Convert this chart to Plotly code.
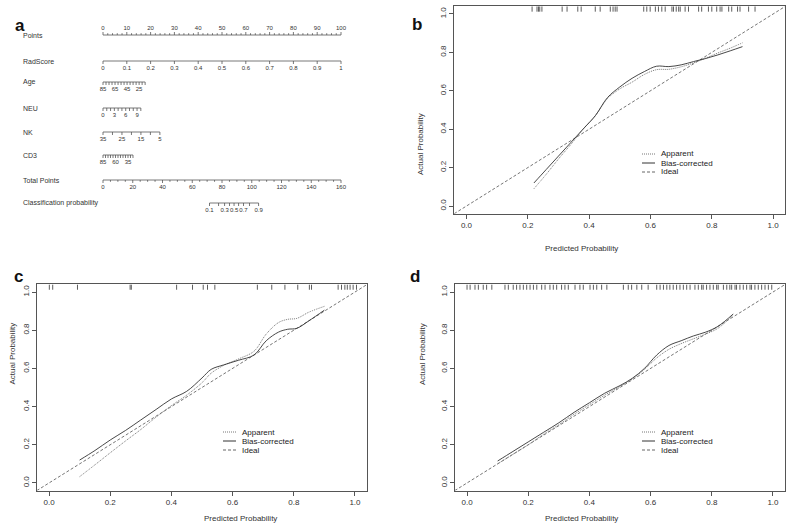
import numpy as np
import plotly.graph_objects as go

W, H = 786, 530

# ---------------- Panel a: nomogram data ----------------
POINTS_LABELS = [0, 10, 20, 30, 40, 50, 60, 70, 80, 90, 100]
POINTS_TICKS = list(range(0, 101, 2))

RADSCORE_LABELS = [0, 0.1, 0.2, 0.3, 0.4, 0.5, 0.6, 0.7, 0.8, 0.9, 1]
RADSCORE_TICKS = RADSCORE_LABELS
RADSCORE_ENDS, RADSCORE_PTS = [0, 1], [0, 100]

AGE_LABELS = [85, 65, 45, 25]
AGE_TICKS = list(range(85, 14, -5))
AGE_ENDS, AGE_PTS = [85, 15], [0, 17.7]

NEU_LABELS = [0, 3, 6, 9]
NEU_TICKS = list(range(0, 11))
NEU_ENDS, NEU_PTS = [0, 10], [0, 15.9]

NK_LABELS = [35, 25, 15, 5]
NK_TICKS = [35, 30, 25, 20, 15, 10, 5]
NK_ENDS, NK_PTS = [35, 5], [0, 23.9]

CD3_LABELS = [85, 60, 35]
CD3_TICKS = list(range(85, 24, -5))
CD3_ENDS, CD3_PTS = [85, 25], [0, 12.6]

TOTAL_LABELS = [0, 20, 40, 60, 80, 100, 120, 140, 160]
TOTAL_TICKS = list(range(0, 161, 5))
TOTAL_MAX = 160

PROB_LABELS = [0.1, 0.3, 0.5, 0.7, 0.9]
PROB_TICKS = [0.1, 0.2, 0.3, 0.4, 0.5, 0.6, 0.7, 0.8, 0.9]
PROB_CENTER_TOTAL, PROB_SLOPE = 88.1, 0.1332

ROW_NAMES = ["Points", "RadScore", "Age", "NEU", "NK", "CD3", "Total Points",
             "Classification probability"]
ROW_Y = [35, 61, 82, 108, 132, 155, 180, 203]   # layout rows (px from top)

# ---------------- Calibration curves ----------------
B_X = [0.22, 0.26, 0.30, 0.34, 0.38, 0.42, 0.46, 0.50, 0.54, 0.58, 0.62, 0.66, 0.70, 0.74, 0.78, 0.82, 0.86, 0.90]
B_BIAS = [0.12, 0.19, 0.26, 0.33, 0.40, 0.47, 0.565, 0.62, 0.665, 0.70, 0.728, 0.726, 0.735, 0.752, 0.768, 0.787, 0.808, 0.83]
B_APP = [0.09, 0.165, 0.245, 0.32, 0.40, 0.47, 0.56, 0.61, 0.645, 0.685, 0.71, 0.712, 0.725, 0.745, 0.77, 0.797, 0.822, 0.85]
B_RUG = [0.214, 0.230, 0.235, 0.239, 0.246, 0.312, 0.328, 0.363, 0.374, 0.420, 0.436, 0.469, 0.478,
         0.485, 0.491, 0.578, 0.588, 0.599, 0.616, 0.626, 0.637, 0.648, 0.670, 0.675, 0.684, 0.692,
         0.697, 0.713, 0.724, 0.757, 0.767, 0.789, 0.800, 0.816, 0.827, 0.833, 0.855, 0.865, 0.884,
         0.892, 0.920, 0.941]

C_X = [0.10, 0.15, 0.20, 0.25, 0.30, 0.35, 0.40, 0.45, 0.50, 0.53, 0.57, 0.62, 0.67, 0.71, 0.75, 0.78, 0.81, 0.85, 0.90]
C_BIAS = [0.12, 0.17, 0.225, 0.275, 0.33, 0.385, 0.44, 0.48, 0.55, 0.595, 0.618, 0.643, 0.67, 0.745, 0.79, 0.805, 0.81, 0.85, 0.905]
C_APP = [0.033, 0.095, 0.158, 0.22, 0.28, 0.345, 0.405, 0.46, 0.525, 0.575, 0.615, 0.65, 0.69, 0.78, 0.84, 0.857, 0.862, 0.895, 0.925]
C_RUG = [0.001, 0.012, 0.093, 0.265, 0.269, 0.417, 0.469, 0.504, 0.518, 0.542, 0.681, 0.728, 0.771,
         0.813, 0.851, 0.858, 0.945, 0.956, 0.967, 0.975, 0.984, 0.994, 1.005]

D_X = [0.10, 0.15, 0.20, 0.25, 0.30, 0.35, 0.40, 0.45, 0.50, 0.54, 0.58, 0.62, 0.66, 0.70, 0.74, 0.78, 0.82, 0.87]
D_BIAS = [0.115, 0.165, 0.215, 0.265, 0.315, 0.37, 0.42, 0.47, 0.51, 0.548, 0.60, 0.67, 0.72, 0.745, 0.77, 0.79, 0.82, 0.885]
D_APP = [0.10, 0.15, 0.20, 0.255, 0.305, 0.36, 0.41, 0.46, 0.505, 0.545, 0.595, 0.655, 0.70, 0.73, 0.755, 0.78, 0.81, 0.88]
D_RUG = [0.000, 0.010, 0.026, 0.037, 0.053, 0.064, 0.081, 0.124, 0.135, 0.151, 0.162, 0.173, 0.184,
         0.195, 0.206, 0.217, 0.228, 0.244, 0.255, 0.271, 0.282, 0.293, 0.309, 0.320, 0.331, 0.353,
         0.369, 0.380, 0.402, 0.413, 0.424, 0.440, 0.457, 0.511, 0.527, 0.538, 0.555, 0.571, 0.592,
         0.620, 0.631, 0.642, 0.653, 0.663, 0.674, 0.685, 0.696, 0.707, 0.718, 0.729, 0.745, 0.756,
         0.767, 0.772, 0.783, 0.794, 0.805, 0.816, 0.821, 0.838, 0.849, 0.859, 0.865, 0.876, 0.881,
         0.892, 0.903, 0.914, 0.925, 0.930, 0.941, 0.952, 0.963, 0.974, 0.985, 0.996]

IDEAL = [-0.04, 1.04]
LEGEND_NAMES = ["Apparent", "Bias-corrected", "Ideal"]

FONT = "Liberation Sans, Arial, sans-serif"
TXT = "#333333"
AX = "#555555"

fig = go.Figure()

# ---------------- nomogram (xaxis / yaxis) ----------------
def lin(v, ends, pts):
    v = np.asarray(v, dtype=float)
    return pts[0] + (v - ends[0]) / (ends[1] - ends[0]) * (pts[1] - pts[0])

def total_to_x(t):
    return np.asarray(t, dtype=float) / TOTAL_MAX * 100.0

def prob_to_x(p):
    p = np.asarray(p, dtype=float)
    return total_to_x(PROB_CENTER_TOTAL + np.log(p / (1 - p)) / PROB_SLOPE)

def nomo_axis(tick_x, label_x, labels, y, up=False, ticklen=3.0, major_x=None):
    tick_x = np.asarray(tick_x, dtype=float)
    d = -1 if up else 1
    xs = [tick_x.min(), tick_x.max(), None]
    ys = [y, y, None]
    majors = set(np.round(np.asarray(major_x if major_x is not None else tick_x), 6))
    for tx in tick_x:
        L = ticklen if np.round(tx, 6) in majors else ticklen * 0.6
        xs += [tx, tx, None]
        ys += [y, y + d * L, None]
    fig.add_trace(go.Scatter(x=xs, y=ys, mode="lines", xaxis="x", yaxis="y",
                             line=dict(color=AX, width=0.8), hoverinfo="skip", showlegend=False))
    ly = y - 7 if up else y + 7
    fig.add_trace(go.Scatter(x=list(label_x), y=[ly] * len(label_x), mode="text",
                             text=[str(l) for l in labels], xaxis="x", yaxis="y",
                             textfont=dict(family=FONT, size=6, color=TXT),
                             hoverinfo="skip", showlegend=False))

nomo_axis(POINTS_TICKS, POINTS_LABELS, POINTS_LABELS, ROW_Y[0], up=True, major_x=POINTS_LABELS)
nomo_axis(lin(RADSCORE_TICKS, RADSCORE_ENDS, RADSCORE_PTS), lin(RADSCORE_LABELS, RADSCORE_ENDS, RADSCORE_PTS),
          RADSCORE_LABELS, ROW_Y[1])
nomo_axis(lin(AGE_TICKS, AGE_ENDS, AGE_PTS), lin(AGE_LABELS, AGE_ENDS, AGE_PTS), AGE_LABELS, ROW_Y[2])
nomo_axis(lin(NEU_TICKS, NEU_ENDS, NEU_PTS), lin(NEU_LABELS, NEU_ENDS, NEU_PTS), NEU_LABELS, ROW_Y[3])
nomo_axis(lin(NK_TICKS, NK_ENDS, NK_PTS), lin(NK_LABELS, NK_ENDS, NK_PTS), NK_LABELS, ROW_Y[4])
nomo_axis(lin(CD3_TICKS, CD3_ENDS, CD3_PTS), lin(CD3_LABELS, CD3_ENDS, CD3_PTS), CD3_LABELS, ROW_Y[5])
nomo_axis(total_to_x(TOTAL_TICKS), total_to_x(TOTAL_LABELS), TOTAL_LABELS, ROW_Y[6],
          major_x=total_to_x(TOTAL_LABELS))
nomo_axis(prob_to_x(PROB_TICKS), prob_to_x(PROB_LABELS), PROB_LABELS, ROW_Y[7])

annotations = []
for name, y in zip(ROW_NAMES, ROW_Y):
    annotations.append(dict(text=name, x=21 / W, y=y, xref="paper", yref="y",
                            xanchor="left", yanchor="middle", showarrow=False,
                            font=dict(family=FONT, size=7, color=TXT)))

# ---------------- calibration panels ----------------
panels = [
    ("x2", "y2", B_X, B_APP, B_BIAS, B_RUG),
    ("x3", "y3", C_X, C_APP, C_BIAS, C_RUG),
    ("x4", "y4", D_X, D_APP, D_BIAS, D_RUG),
]
for xa, ya, xs, app, bias, rug in panels:
    fig.add_trace(go.Scatter(x=IDEAL, y=IDEAL, mode="lines", xaxis=xa, yaxis=ya,
                             line=dict(color="#666666", width=0.9, dash="3px,2px"),
                             showlegend=False, hoverinfo="skip"))
    fig.add_trace(go.Scatter(x=xs, y=app, mode="lines", xaxis=xa, yaxis=ya,
                             line=dict(color="#777777", width=1, dash="1px,1px", shape="spline"),
                             showlegend=False, hoverinfo="skip"))
    fig.add_trace(go.Scatter(x=xs, y=bias, mode="lines", xaxis=xa, yaxis=ya,
                             line=dict(color="#333333", width=0.9, shape="spline"),
                             showlegend=False, hoverinfo="skip"))
    rx, ry = [], []
    for r in rug:
        rx += [r, r, None]
        ry += [1.04, 1.012, None]
    fig.add_trace(go.Scatter(x=rx, y=ry, mode="lines", xaxis=xa, yaxis=ya,
                             line=dict(color="#333333", width=0.8),
                             showlegend=False, hoverinfo="skip"))

def px(x):
    return x / W

def py(y):
    return 1 - y / H

ticks01 = [0, 0.2, 0.4, 0.6, 0.8, 1.0]
axis_common = dict(range=[-0.04, 1.04], showgrid=False, zeroline=False, showline=True,
                   linecolor=AX, linewidth=1, mirror=True, ticks="outside", ticklen=4,
                   tickcolor=AX, tickwidth=1, tickvals=ticks01, tickformat=".1f",
                   tickfont=dict(family=FONT, size=8, color=TXT))

# pixel boxes: (left, right, top, bottom)
boxes = {"2": (454.2, 785.4, 6.3, 213.7), "3": (36.8, 367.2, 284.4, 490.6), "4": (454.8, 785.2, 284.4, 490.6)}

layout_axes = {}
for k, (l, r, t, b) in boxes.items():
    layout_axes["xaxis" + k] = dict(axis_common, domain=[px(l), px(r)], anchor="y" + k)
    layout_axes["yaxis" + k] = dict(axis_common, domain=[py(b), py(t)], anchor="x" + k, tickangle=-90)

# axis titles, legends, panel letters
titles = [("2", 620, 248, 420, 111), ("3", 202, 525, 5, 387), ("4", 620, 525, 422, 387)]
for k, xtx, xty, ytx, yty in titles:
    annotations.append(dict(text="Predicted Probability", x=px(xtx), y=py(xty), xref="paper", yref="paper",
                            showarrow=False, font=dict(family=FONT, size=8, color=TXT)))
    annotations.append(dict(text="Actual Probability", x=px(ytx), y=py(yty), xref="paper", yref="paper",
                            showarrow=False, textangle=-90, font=dict(family=FONT, size=8, color=TXT)))

shapes = []
legends = [(642, 154), (223, 432), (642, 432)]
styles = [dict(color="#777777", width=1, dash="1px,1px"), dict(color="#333333", width=1),
          dict(color="#666666", width=1, dash="3px,2px")]
for lx, ly in legends:
    for i, (name, st) in enumerate(zip(LEGEND_NAMES, styles)):
        yy = ly + 9 * i
        shapes.append(dict(type="line", xref="paper", yref="paper", x0=px(lx), x1=px(lx + 13),
                           y0=py(yy), y1=py(yy), line=st))
        annotations.append(dict(text=name, x=px(lx + 17), y=py(yy), xref="paper", yref="paper",
                                xanchor="left", yanchor="middle", showarrow=False,
                                font=dict(family=FONT, size=8, color="#222222")))

for letter, lx, ly in [("a", 13, 14), ("b", 417, 13), ("c", 12, 276), ("d", 415, 276)]:
    annotations.append(dict(text="<b>%s</b>" % letter, x=px(lx), y=py(ly), xref="paper", yref="paper",
                            showarrow=False, font=dict(family=FONT, size=17, color="#111111")))

fig.update_layout(
    width=W, height=H, margin=dict(l=0, r=0, t=0, b=0),
    paper_bgcolor="white", plot_bgcolor="rgba(0,0,0,0)",
    showlegend=False,
    xaxis=dict(domain=[0, 0.5], range=[-103 / 2.38, (393 - 103) / 2.38], visible=False, fixedrange=True),
    yaxis=dict(domain=[0.5, 1.0], range=[265, 0], visible=False, fixedrange=True),
    annotations=annotations, shapes=shapes,
    **layout_axes,
)

fig.write_html("out.html", config={"displayModeBar": False, "staticPlot": True},
               post_script="document.body.style.margin='0';document.body.style.padding='0';"
                           "document.body.style.overflow='hidden';")
